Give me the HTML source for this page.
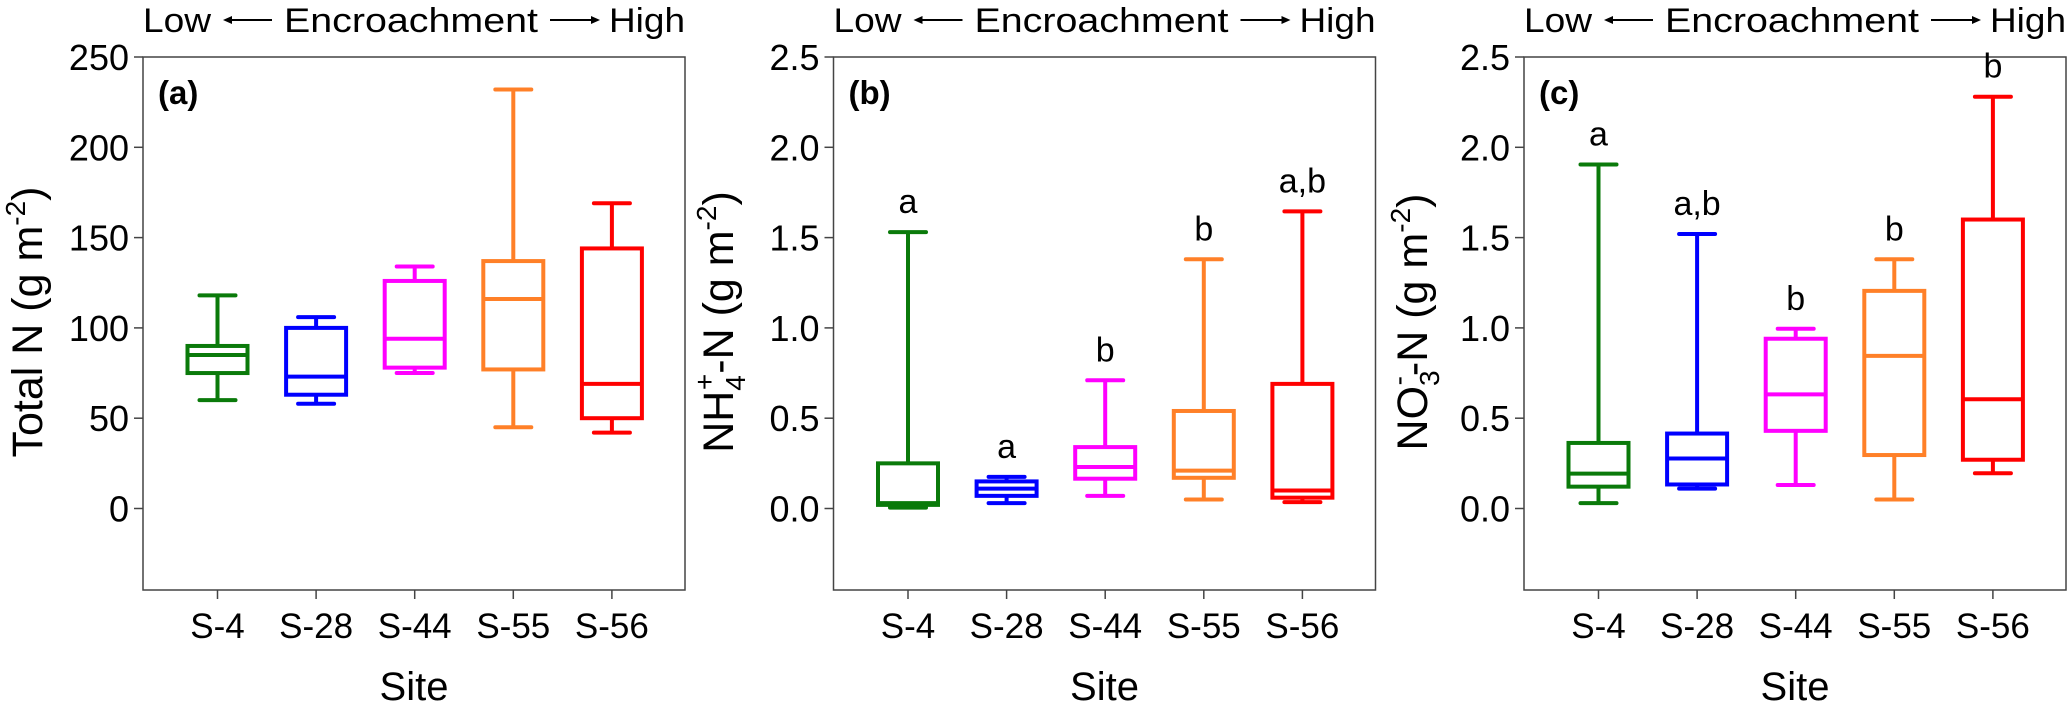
<!DOCTYPE html>
<html><head><meta charset="utf-8"><style>
html,body{margin:0;padding:0;background:#fff;}
svg{display:block;font-family:"Liberation Sans",sans-serif;}
</style></head><body>
<svg id="chart" width="2067" height="711" viewBox="0 0 2067 711" xmlns="http://www.w3.org/2000/svg"></svg>
<script>
const categories = ["S-4","S-28","S-44","S-55","S-56"];
const colors = ["#0a7a0a","#0000ff","#ff00ff","#ff8028","#ff0000"];
// panel a: Total N
const aMin = [60,58,75,45,42];
const aQ1  = [75,63,78,77,50];
const aMed = [85,73,94,116,69];
const aQ3  = [90,100,126,137,144];
const aMax = [118,106,134,232,169];
const aTicks = ["0","50","100","150","200","250"];
// panel b: NH4-N
const bMin = [0.005,0.03,0.07,0.05,0.035];
const bQ1  = [0.02,0.07,0.165,0.17,0.06];
const bMed = [0.03,0.11,0.23,0.21,0.10];
const bQ3  = [0.25,0.15,0.34,0.54,0.69];
const bMax = [1.53,0.175,0.71,1.38,1.645];
const bLetters = ["a","a","b","b","a,b"];
// panel c: NO3-N
const cMin = [0.03,0.11,0.13,0.05,0.195];
const cQ1  = [0.121,0.133,0.43,0.296,0.27];
const cMed = [0.193,0.277,0.632,0.845,0.605];
const cQ3  = [0.363,0.415,0.94,1.205,1.60];
const cMax = [1.905,1.52,0.995,1.38,2.28];
const cLetters = ["a","a,b","b","b","b"];
const decTicks = ["0.0","0.5","1.0","1.5","2.0","2.5"];

const NS="http://www.w3.org/2000/svg";
const svg=document.getElementById('chart');
function mk(tag,attrs,parent){const e=document.createElementNS(NS,tag);for(const k in attrs)e.setAttribute(k,attrs[k]);(parent||svg).appendChild(e);return e;}

const panels=[
 {id:"a",left:143,min:aMin,q1:aQ1,med:aMed,q3:aQ3,max:aMax,ticks:aTicks,ymax:250,letters:null,titleX:27},
 {id:"b",left:833.5,min:bMin,q1:bQ1,med:bMed,q3:bQ3,max:bMax,ticks:decTicks,ymax:2.5,letters:bLetters,titleX:718},
 {id:"c",left:1524,min:cMin,q1:cQ1,med:cMed,q3:cQ3,max:cMax,ticks:decTicks,ymax:2.5,letters:cLetters,titleX:1412}
];
const TOP=57, ZERO=508.5, BOTTOM=590, W=542;

panels.forEach(p=>{
 const g=mk('g',{});
 
 
 const y=v=>ZERO-(v/p.ymax)*(ZERO-TOP);
 const x=i=>p.left+74.5+i*98.6;
 // top gradient label
 const hg=mk('g',{},g);
 
 
 const lo=mk('text',{x:p.left,y:32,'font-size':34,textLength:68,lengthAdjust:'spacingAndGlyphs'},hg);lo.textContent='Low';
 const en=mk('text',{x:p.left+268,y:32,'font-size':34,'text-anchor':'middle',textLength:254,lengthAdjust:'spacingAndGlyphs'},hg);en.textContent='Encroachment';
 const hi=mk('text',{x:p.left+W,y:32,'font-size':34,'text-anchor':'end',textLength:76,lengthAdjust:'spacingAndGlyphs'},hg);hi.textContent='High';
 const a1=p.left+80,a2=p.left+129,a3=p.left+407,a4=p.left+457;
 mk('line',{x1:a1+6,x2:a2,y1:20,y2:20,stroke:'#000','stroke-width':2},hg);
 mk('polygon',{points:`${a1},20 ${a1+9},16 ${a1+9},24`,fill:'#000'},hg);
 mk('line',{x1:a3,x2:a4-6,y1:20,y2:20,stroke:'#000','stroke-width':2},hg);
 mk('polygon',{points:`${a4},20 ${a4-9},16 ${a4-9},24`,fill:'#000'},hg);
 // frame
 const fr=mk('rect',{x:p.left,y:TOP,width:W,height:BOTTOM-TOP,fill:'none',stroke:'#444','stroke-width':1.5},g);
 
 
 // y ticks
 p.ticks.forEach((t,i)=>{
  const v=i*p.ymax/(p.ticks.length-1);
  mk('line',{x1:p.left-9,x2:p.left,y1:y(v),y2:y(v),stroke:'#444','stroke-width':1.5},g);
  const tx=mk('text',{x:p.left-14,y:y(v)+13,'font-size':36,'text-anchor':'end'},g);
  tx.textContent=t;
  
  
 });
 // y title
 const yt=mk('text',{x:0,y:0,'font-size':43,'text-anchor':'middle',transform:`translate(${p.titleX+15},322) rotate(-90)`},g);
 if(p.id==="a") yt.innerHTML='Total N (g m<tspan dy="-17" font-size="28">-2</tspan><tspan dy="17">)</tspan>';
 else if(p.id==="b") yt.innerHTML='NH<tspan dy="12" font-size="28">4</tspan><tspan dy="-31" font-size="28" dx="-15">+</tspan><tspan dy="19">-N (g m</tspan><tspan dy="-17" font-size="28">-2</tspan><tspan dy="17">)</tspan>';
 else yt.innerHTML='NO<tspan dy="12" font-size="28">3</tspan><tspan dy="-31" font-size="28" dx="-15">-</tspan><tspan dy="19">-N (g m</tspan><tspan dy="-17" font-size="28">-2</tspan><tspan dy="17">)</tspan>';
 
 
 // panel label
 const pl=mk('text',{x:p.left+15,y:104,'font-size':33,'font-weight':'bold'},g);
 pl.textContent='('+p.id+')';
 
 
 // x ticks & labels
 categories.forEach((c,i)=>{
  mk('line',{x1:x(i),x2:x(i),y1:BOTTOM,y2:BOTTOM+9,stroke:'#444','stroke-width':1.5},g);
  const tx=mk('text',{x:x(i),y:638,'font-size':35,'text-anchor':'middle'},g);
  tx.textContent=c;
  
  
 });
 const xt=mk('text',{x:p.left+W/2,y:700,'font-size':40,'text-anchor':'middle'},g);
 xt.textContent='Site';
 
 
 // boxes
 categories.forEach((c,i)=>{
  const bg=mk('g',{stroke:colors[i],'stroke-width':4,fill:'none'},g);
  
  
  const cx=x(i);
  mk('line',{x1:cx,x2:cx,y1:y(p.max[i]),y2:y(p.q3[i])},bg);
  mk('line',{x1:cx,x2:cx,y1:y(p.q1[i]),y2:y(p.min[i])},bg);
  mk('line',{x1:cx-18,x2:cx+18,y1:y(p.max[i]),y2:y(p.max[i]),'stroke-linecap':'round'},bg);
  mk('line',{x1:cx-18,x2:cx+18,y1:y(p.min[i]),y2:y(p.min[i]),'stroke-linecap':'round'},bg);
  mk('rect',{x:cx-30,y:y(p.q3[i]),width:60,height:Math.max(0.5,y(p.q1[i])-y(p.q3[i]))},bg);
  mk('line',{x1:cx-30,x2:cx+30,y1:y(p.med[i]),y2:y(p.med[i])},bg);
  if(p.letters){
   const lt=mk('text',{x:cx,y:y(p.max[i])-19,'font-size':34,'text-anchor':'middle'},g);
   lt.textContent=p.letters[i];
   
   
  }
 });
});
</script>
</body></html>
